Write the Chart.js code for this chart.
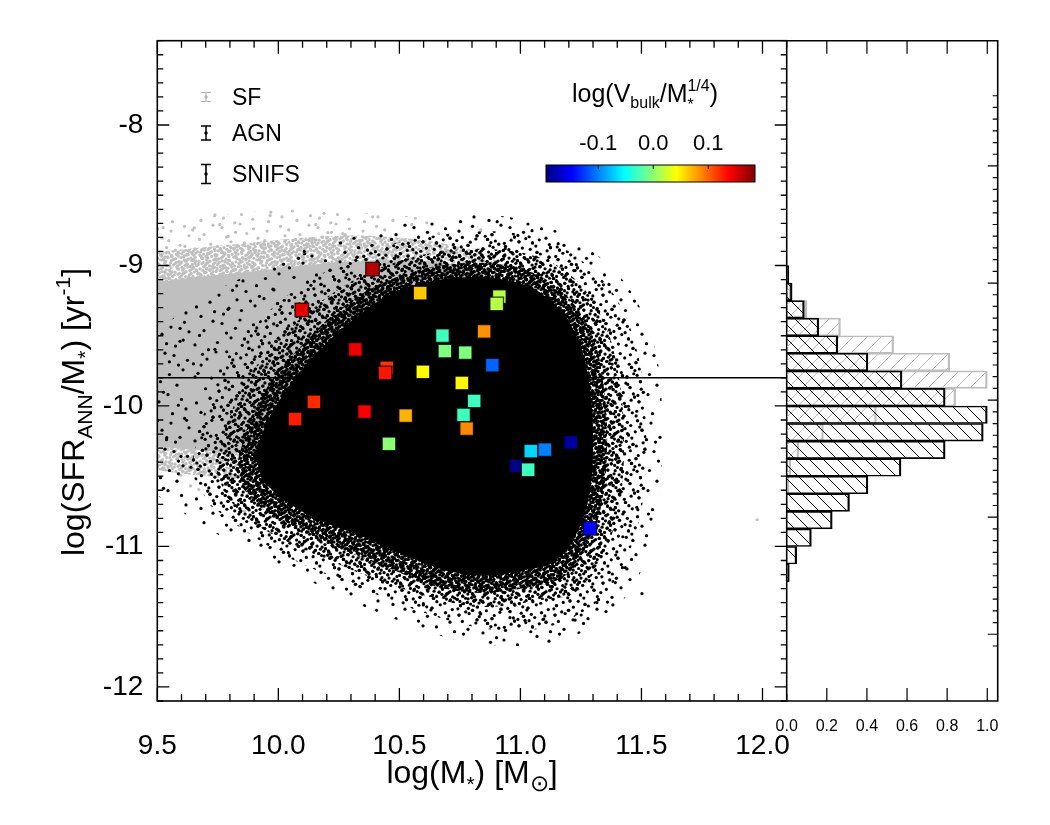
<!DOCTYPE html>
<html><head><meta charset="utf-8">
<script src="https://cdn.jsdelivr.net/npm/chart.js@4.4.1/dist/chart.umd.min.js"></script>
<style>
html,body{margin:0;padding:0;background:#fff;}
#wrap{position:relative;width:1050px;height:825px;background:#fff;}
canvas{position:absolute;left:0;top:0;}
</style></head><body>
<div id="wrap"><canvas id="main" width="1050" height="825"></canvas><canvas id="hist" width="1050" height="825"></canvas></div>
<script>
const FONT = '"Liberation Sans", Arial, Helvetica, sans-serif';

// ---------- axes ----------
const xRange = [9.5, 12.1];
const yRange = [-12.1, -7.4];
const histRange = [0, 1.052];
const xTickValues = [9.5, 10.0, 10.5, 11.0, 11.5, 12.0];
const yTickValues = [-12, -11, -10, -9, -8];
const histTickValues = [0.0, 0.2, 0.4, 0.6, 0.8, 1.0];
const colorbarTickValues = [-0.1, 0.0, 0.1];
const colorRange = [-0.195, 0.185];
const refLineY = -9.8;

// ---------- SF (grey) cloud: density contours ----------
const sfOuter = [[9.5,-8.688],[9.759,-8.645],[10.007,-8.602],[10.255,-8.616],[10.503,-8.645],[10.71,-8.688],[10.916,-8.774],[11.061,-8.924],[11.102,-9.138],[10.833,-9.531],[10.296,-10.174],[10.007,-10.602],[9.842,-10.674],[9.676,-10.645],[9.5,-10.602]];
const sfMid = [[9.5,-8.902],[9.759,-8.859],[10.007,-8.816],[10.255,-8.788],[10.503,-8.802],[10.71,-8.852],[10.895,-8.959],[10.957,-9.138],[10.751,-9.531],[10.296,-10.102],[10.007,-10.424],[9.842,-10.516],[9.676,-10.495],[9.5,-10.459]];
const sfCore = [[9.5,-9.116],[9.676,-9.081],[9.883,-9.045],[10.09,-9.002],[10.296,-8.974],[10.503,-8.959],[10.71,-8.988],[10.833,-9.066],[10.627,-9.459],[10.255,-9.959],[10.007,-10.245],[9.842,-10.331],[9.676,-10.316],[9.5,-10.288]];
const sfStray = [[9.524,-8.731],[9.653,-8.733],[9.966,-8.645],[10.39,-8.654],[10.205,-8.766],[10.276,-8.781],[11.978,-10.81],[9.614,-8.864],[9.793,-8.793],[10.138,-8.816],[9.738,-8.639],[9.86,-10.75]];

// ---------- AGN (black) cloud: density contours ----------
const agnEnvelope = [[9.5,-9.459],[9.676,-9.245],[9.924,-9.031],[10.214,-8.852],[10.503,-8.709],[10.833,-8.638],[11.081,-8.709],[11.288,-8.888],[11.453,-9.174],[11.557,-9.602],[11.586,-10.102],[11.577,-10.602],[11.536,-10.995],[11.453,-11.316],[11.329,-11.531],[11.164,-11.674],[10.957,-11.709],[10.751,-11.674],[10.503,-11.531],[10.255,-11.352],[10.007,-11.138],[9.759,-10.924],[9.594,-10.745],[9.5,-10.638]];
const agnSparse = [[9.635,-10.459],[9.697,-10.031],[9.8,-9.674],[9.966,-9.316],[10.172,-9.066],[10.42,-8.874],[10.668,-8.781],[10.916,-8.759],[11.123,-8.831],[11.288,-9.016],[11.412,-9.281],[11.486,-9.638],[11.515,-10.031],[11.519,-10.424],[11.495,-10.781],[11.433,-11.102],[11.329,-11.374],[11.164,-11.545],[10.978,-11.602],[10.792,-11.566],[10.606,-11.474],[10.42,-11.352],[10.214,-11.209],[10.028,-11.066],[9.862,-10.888],[9.718,-10.709]];
const agnMedium = [[9.738,-10.424],[9.792,-10.102],[9.883,-9.781],[10.028,-9.481],[10.214,-9.209],[10.42,-9.016],[10.668,-8.902],[10.916,-8.888],[11.123,-8.974],[11.267,-9.174],[11.362,-9.474],[11.412,-9.852],[11.428,-10.245],[11.412,-10.674],[11.35,-11.031],[11.238,-11.316],[11.061,-11.388],[10.833,-11.431],[10.627,-11.359],[10.42,-11.245],[10.214,-11.102],[10.028,-10.959],[9.883,-10.816],[9.78,-10.638]];
const agnDense = [[9.833,-10.388],[9.883,-10.102],[9.974,-9.816],[10.11,-9.545],[10.276,-9.281],[10.462,-9.102],[10.668,-9.002],[10.895,-8.988],[11.081,-9.074],[11.214,-9.259],[11.305,-9.531],[11.346,-9.888],[11.358,-10.245],[11.342,-10.638],[11.288,-10.959],[11.185,-11.209],[11.019,-11.296],[10.833,-11.331],[10.648,-11.283],[10.462,-11.159],[10.276,-11.031],[10.09,-10.874],[9.945,-10.745],[9.854,-10.588]];
const agnCore = [[9.904,-10.352],[9.957,-10.102],[10.048,-9.852],[10.172,-9.602],[10.317,-9.374],[10.482,-9.188],[10.668,-9.102],[10.875,-9.088],[11.04,-9.159],[11.164,-9.316],[11.247,-9.566],[11.288,-9.888],[11.3,-10.245],[11.288,-10.602],[11.238,-10.888],[11.143,-11.102],[10.999,-11.174],[10.833,-11.209],[10.668,-11.159],[10.503,-11.045],[10.338,-10.924],[10.172,-10.816],[10.028,-10.674],[9.933,-10.531]];
const agnStray = [[11.502,-11.336],[11.529,-10.769],[11.485,-10.738],[11.453,-10.852],[11.423,-10.931],[11.433,-11.150],[11.392,-11.257],[11.382,-11.416],[11.316,-11.400],[11.251,-11.488],[11.226,-11.524],[11.093,-11.519],[11.043,-11.607],[11.019,-11.526],[10.957,-11.507],[10.833,-11.471],[10.785,-11.440],[10.599,-11.416],[10.544,-11.269],[10.420,-11.126],[10.197,-10.943],[10.161,-10.907],[11.478,-10.071],[11.446,-10.002],[11.442,-10.197],[11.450,-10.293],[11.457,-10.488],[11.374,-9.988],[11.065,-8.940],[11.226,-9.036],[11.343,-9.138],[11.260,-9.245],[11.295,-9.471],[11.371,-9.674],[11.329,-9.531],[11.212,-9.114],[11.109,-9.054],[10.904,-8.688],[11.048,-8.752],[10.937,-8.881],[11.156,-8.845],[10.486,-8.931],[10.255,-8.974],[10.107,-8.900],[9.828,-9.145],[9.982,-9.174],[9.594,-9.447],[9.550,-9.686],[9.738,-9.597],[9.681,-9.709],[9.656,-9.793],[9.587,-9.995],[9.621,-10.102],[9.539,-10.226],[9.598,-10.359],[9.587,-10.483],[9.679,-10.550],[9.639,-10.436],[9.780,-10.638],[9.821,-10.709],[9.929,-10.774],[9.966,-10.757],[9.807,-9.959],[9.904,-9.650],[9.876,-9.471],[9.796,-9.304],[9.607,-9.531],[9.787,-9.614]];

// ---------- SNIFS galaxies ----------
const snifsMass = [10.389,10.586,10.913,10.902,10.097,10.678,10.850,10.688,10.772,10.318,10.884,10.448,10.441,10.597,10.758,10.809,10.147,10.356,10.526,10.765,10.069,10.778,10.457,11.208,11.043,11.101,10.982,11.032,11.287];
const snifsSSFR = [-9.026,-9.197,-9.221,-9.274,-9.316,-9.500,-9.469,-9.609,-9.621,-9.597,-9.709,-9.729,-9.764,-9.757,-9.836,-9.964,-9.971,-10.040,-10.069,-10.064,-10.093,-10.161,-10.269,-10.259,-10.321,-10.311,-10.426,-10.454,-10.871];
const snifsVbulk = [0.166,0.063,0.016,0.016,0.149,-0.029,0.084,-0.005,-0.005,0.143,-0.111,0.118,0.13,0.042,0.045,-0.029,0.122,0.14,0.071,-0.029,0.127,0.087,0.0,-0.183,-0.067,-0.1,-0.195,-0.029,-0.1475];

// ---------- side histogram ----------
const histBinCenters = [-8.925,-9.075,-9.225,-9.375,-9.525,-9.675,-9.825,-9.975,-10.125,-10.275,-10.425,-10.575,-10.725,-10.875,-11.025,-11.175,-11.325,-11.475];
const agnHist = [0.01,0.027,0.088,0.16,0.255,0.405,0.575,0.79,1.0,0.98,0.79,0.57,0.405,0.313,0.227,0.123,0.05,0.013];
const sfBinCenters = [-9.075,-9.225,-9.375,-9.525,-9.675,-9.825,-9.975,-10.125,-10.275,-10.425,-10.575,-10.725];
const sfHist = [0.02,0.1,0.268,0.533,0.813,1.0,0.842,0.447,0.183,0.06,0.02,0.01];

// ---------- helpers ----------
const clamp = v => Math.max(0, Math.min(1, v));
function jetRGB(t){
  t = clamp(t);
  const r = clamp(1.5 - Math.abs(4*t - 3)), g = clamp(1.5 - Math.abs(4*t - 2)), b = clamp(1.5 - Math.abs(4*t - 1));
  return `rgb(${Math.round(r*255)},${Math.round(g*255)},${Math.round(b*255)})`;
}
const colorT = v => (v - colorRange[0]) / (colorRange[1] - colorRange[0]);

const mainCtx = document.getElementById('main').getContext('2d');
const histCtx = document.getElementById('hist').getContext('2d');

function halton(i, b){ let f = 1, r = 0; while (i > 0){ f /= b; r += f * (i % b); i = Math.floor(i / b); } return r; }
// texture tile for a fill (style only): n dots spread over a 96px tile
function dotPattern(n, color, r){
  const S = 96, c = document.createElement('canvas');
  c.width = S; c.height = S;
  const g = c.getContext('2d'); g.fillStyle = color;
  for (let i = 1; i <= n; i++){
    const px = halton(i, 2) * S, py = halton(i, 3) * S;
    for (const ox of [-S,0,S]) for (const oy of [-S,0,S]){
      g.beginPath(); g.arc(px+ox, py+oy, r, 0, Math.PI*2); g.fill();
    }
  }
  return mainCtx.createPattern(c, 'repeat');
}
function hatchPattern(color, dir, s, lw){
  const c = document.createElement('canvas'); c.width = s; c.height = s;
  const g = c.getContext('2d'); g.strokeStyle = color; g.lineWidth = lw;
  for (const k of [-s, 0, s]){
    g.beginPath();
    if (dir === 'back'){ g.moveTo(k, 0); g.lineTo(k+s, s); }
    else { g.moveTo(k, s); g.lineTo(k+s, 0); }
    g.stroke();
  }
  return histCtx.createPattern(c, 'repeat');
}
const GREY = '#bfbfbf';
const toXY = arr => arr.map(p => ({x: p[0], y: p[1]}));
function polyDataset(pts, fillStyle, order){
  return {type:'line', data: toXY(pts), backgroundColor: fillStyle, borderColor:'rgba(0,0,0,0)', borderWidth:0,
          pointRadius:0, fill:'shape', tension:0.35, order};
}

function partWidth(ctx, p){
  if (p.stack) return Math.max(...p.stack.map(q => { ctx.font = `${q.s}px ${FONT}`; return ctx.measureText(q.t).width; }));
  ctx.font = `${p.s}px ${FONT}`; return ctx.measureText(p.t).width;
}
function drawRich(ctx, parts, x, y, align){
  const w = parts.map(p => partWidth(ctx, p));
  const tot = w.reduce((a,b)=>a+b, 0);
  let cx = align === 'center' ? x - tot/2 : x;
  ctx.textAlign = 'left'; ctx.textBaseline = 'alphabetic';
  parts.forEach((p, i) => {
    const list = p.stack ? p.stack : [p];
    list.forEach(q => { ctx.font = `${q.s}px ${FONT}`; ctx.fillText(q.t, cx, y + (q.dy || 0)); });
    cx += w[i];
  });
}
function tickSet(ctx, scale, side, values, len, a){
  ctx.beginPath();
  values.forEach(v => {
    const p = scale.getPixelForValue(v);
    if (side === 'bottom'){ ctx.moveTo(p, a.bottom); ctx.lineTo(p, a.bottom - len); }
    if (side === 'top'){ ctx.moveTo(p, a.top); ctx.lineTo(p, a.top + len); }
    if (side === 'left'){ ctx.moveTo(a.left, p); ctx.lineTo(a.left + len, p); }
    if (side === 'right'){ ctx.moveTo(a.right, p); ctx.lineTo(a.right - len, p); }
  });
  ctx.stroke();
}
function minorValues(lo, hi, step, majors){
  const out = [];
  const n = Math.round((hi - lo) / step);
  for (let i = 0; i <= n; i++){
    const v = +(lo + i*step).toFixed(3);
    if (!majors.some(m => Math.abs(m - v) < 1e-6)) out.push(v);
  }
  return out;
}

// ---------- main chart decorations ----------
const mainDeco = {
  id: 'mainDeco',
  afterDraw(chart){
    const ctx = chart.ctx, a = chart.chartArea, xs = chart.scales.x, ys = chart.scales.y;
    ctx.save();
    ctx.strokeStyle = '#000'; ctx.lineWidth = 1.6;
    ctx.strokeRect(a.left, a.top, a.right - a.left, a.bottom - a.top);
    ctx.lineWidth = 1.3;
    const xMin = minorValues(xRange[0], xRange[1], 0.1, xTickValues);
    const yMin = minorValues(yRange[0], yRange[1], 0.1, yTickValues);
    tickSet(ctx, xs, 'bottom', xTickValues, 13, a); tickSet(ctx, xs, 'top', xTickValues, 13, a);
    tickSet(ctx, xs, 'bottom', xMin, 7, a); tickSet(ctx, xs, 'top', xMin, 7, a);
    tickSet(ctx, ys, 'left', yTickValues, 12, a); tickSet(ctx, ys, 'right', yTickValues, 12, a);
    tickSet(ctx, ys, 'left', yMin, 6, a); tickSet(ctx, ys, 'right', yMin, 6, a);

    ctx.fillStyle = '#000';
    drawRich(ctx, [{t:'log(M', s:32},{t:'*', s:21, dy:8},{t:') [M', s:32},{t:'\u2299', s:23, dy:8},{t:']', s:32}], (a.left + a.right)/2, 783, 'center');
    ctx.save(); ctx.translate(84, 412); ctx.rotate(-Math.PI/2);
    drawRich(ctx, [{t:'log(SFR', s:32},{t:'ANN', s:21, dy:8},{t:'/M', s:32},{t:'*', s:21, dy:8},{t:') [yr', s:32},{t:'-1', s:21, dy:-14},{t:']', s:32}], 0, 0, 'center');
    ctx.restore();

    // legend
    const items = [{label:'SF', color:'#b4b4b4', h:9, lw:1.1, y:97},{label:'AGN', color:'#000', h:14, lw:1.5, y:133},{label:'SNIFS', color:'#000', h:19, lw:1.6, y:174}];
    items.forEach(it => {
      ctx.strokeStyle = it.color; ctx.fillStyle = it.color; ctx.lineWidth = it.lw;
      const x = 206, t = it.y - it.h/2, b = it.y + it.h/2;
      ctx.beginPath(); ctx.moveTo(x, t); ctx.lineTo(x, b); ctx.moveTo(x-5, t); ctx.lineTo(x+5, t); ctx.moveTo(x-5, b); ctx.lineTo(x+5, b); ctx.stroke();
      ctx.beginPath(); ctx.arc(x, it.y, 1.7, 0, Math.PI*2); ctx.fill();
      ctx.fillStyle = '#000'; ctx.font = `23px ${FONT}`; ctx.textAlign = 'left'; ctx.textBaseline = 'alphabetic';
      ctx.fillText(it.label, 232, it.y + 8);
    });

    // colour bar
    const x0 = 546, x1 = 755, y0 = 165, y1 = 182;
    const grad = ctx.createLinearGradient(x0, 0, x1, 0);
    for (let i = 0; i <= 40; i++){ grad.addColorStop(i/40, jetRGB(i/40)); }
    ctx.fillStyle = grad; ctx.fillRect(x0, y0, x1 - x0, y1 - y0);
    ctx.strokeStyle = '#000'; ctx.lineWidth = 1; ctx.strokeRect(x0, y0, x1 - x0, y1 - y0);
    ctx.fillStyle = '#000'; ctx.font = `22px ${FONT}`; ctx.textAlign = 'center';
    colorbarTickValues.forEach(v => {
      const px = x0 + colorT(v) * (x1 - x0);
      ctx.beginPath(); ctx.moveTo(px, y0); ctx.lineTo(px, y0 + 4); ctx.stroke();
      ctx.fillText(v.toFixed(1), px, 150);
    });
    drawRich(ctx, [{t:'log(V', s:25},{t:'bulk', s:16, dy:6},{t:'/M', s:25},{stack:[{t:'*', s:16, dy:8},{t:'1/4', s:16, dy:-11}]},{t:')', s:25}], 645, 102, 'center');
    ctx.restore();
  }
};

// ---------- main chart ----------
new Chart(mainCtx, {
  type: 'scatter',
  data: { datasets: [
    polyDataset(sfOuter, dotPattern(84, GREY, 1.6), 30),
    polyDataset(sfMid, dotPattern(1024, GREY, 1.6), 29),
    polyDataset(sfCore, GREY, 28),
    {type:'scatter', data: toXY(sfStray), pointRadius:1.6, backgroundColor:GREY, borderWidth:0, order:27},
    polyDataset(agnEnvelope, dotPattern(62, '#000', 1.6), 22),
    polyDataset(agnSparse, dotPattern(205, '#000', 1.6), 21),
    polyDataset(agnMedium, dotPattern(576, '#000', 1.6), 20),
    polyDataset(agnDense, dotPattern(1316, '#000', 1.6), 19),
    polyDataset(agnCore, '#000', 18),
    {type:'scatter', data: toXY(agnStray), pointRadius:1.6, backgroundColor:'#000', borderWidth:0, order:17},
    {type:'line', data: [{x:xRange[0], y:refLineY},{x:xRange[1], y:refLineY}], borderColor:'#000', borderWidth:1.5, pointRadius:0, fill:false, tension:0, order:5},
    {type:'scatter', data: snifsMass.map((m,i) => ({x:m, y:snifsSSFR[i]})), pointStyle:'rect', pointRadius:9.6,
     backgroundColor: snifsVbulk.map(v => jetRGB(colorT(v))), pointBackgroundColor: snifsVbulk.map(v => jetRGB(colorT(v))),
     borderColor:'rgba(0,0,0,0.75)', pointBorderColor:'rgba(0,0,0,0.75)', borderWidth:1.3, pointBorderWidth:1.3, order:0}
  ]},
  options: {
    responsive:false, animation:false, events:[],
    layout:{padding:{left:0, top:40.7, right:263.3, bottom:0}},
    plugins:{legend:{display:false}, tooltip:{enabled:false}},
    scales:{
      x:{type:'linear', min:xRange[0], max:xRange[1],
         afterBuildTicks: s => { s.ticks = xTickValues.map(v => ({value:v})); },
         afterFit: s => { s.height = 124; },
         grid:{display:false, drawTicks:false}, border:{display:false},
         ticks:{font:{family:FONT, size:28}, color:'#000', padding:28, maxRotation:0, autoSkip:false, callback: v => Number(v).toFixed(1)}},
      y:{type:'linear', min:yRange[0], max:yRange[1],
         afterBuildTicks: s => { s.ticks = yTickValues.map(v => ({value:v})); },
         afterFit: s => { s.width = 157.3; },
         grid:{display:false, drawTicks:false}, border:{display:false},
         ticks:{font:{family:FONT, size:28}, color:'#000', padding:14, autoSkip:false, callback: v => String(v)}}
    }
  },
  plugins:[mainDeco]
});

// ---------- histogram decorations ----------
const histDeco = {
  id: 'histDeco',
  afterDraw(chart){
    const ctx = chart.ctx, a = chart.chartArea, xs = chart.scales.x, ys = chart.scales.y;
    ctx.save();
    ctx.strokeStyle = '#000'; ctx.lineWidth = 1.6;
    ctx.beginPath(); ctx.moveTo(a.left, a.top); ctx.lineTo(a.right, a.top); ctx.lineTo(a.right, a.bottom); ctx.lineTo(a.left, a.bottom); ctx.stroke();
    ctx.lineWidth = 1.2;
    tickSet(ctx, xs, 'bottom', histTickValues.slice(1), 13, a);
    tickSet(ctx, xs, 'top', histTickValues.slice(1), 13, a);
    tickSet(ctx, ys, 'right', yTickValues, 10, a);
    tickSet(ctx, ys, 'right', minorValues(yRange[0], yRange[1], 0.1, yTickValues), 5, a);
    ctx.restore();
  }
};

new Chart(histCtx, {
  type: 'bar',
  data: { datasets: [
    {label:'SF', data: sfBinCenters.map((c,i) => ({x:sfHist[i], y:c})), backgroundColor: hatchPattern('#b8b8b8', 'fwd', 14, 1),
     borderColor:'#bdbdbd', borderWidth:{top:1, bottom:1, right:1.6, left:0}, borderSkipped:false, grouped:false, barPercentage:1, categoryPercentage:1, order:2},
    {label:'AGN', data: histBinCenters.map((c,i) => ({x:agnHist[i], y:c})), backgroundColor: hatchPattern('#000', 'back', 14, 1),
     borderColor:'#000', borderWidth:{top:1, bottom:1, right:1.6, left:0}, borderSkipped:false, grouped:false, barPercentage:1, categoryPercentage:1, order:1}
  ]},
  options: {
    indexAxis:'y', responsive:false, animation:false, events:[],
    layout:{padding:{left:786.7, top:40.7, right:52.3, bottom:0}},
    plugins:{legend:{display:false}, tooltip:{enabled:false}},
    scales:{
      x:{type:'linear', min:histRange[0], max:histRange[1],
         afterBuildTicks: s => { s.ticks = histTickValues.map(v => ({value:v})); },
         afterFit: s => { s.height = 124; },
         grid:{display:false, drawTicks:false}, border:{display:false},
         ticks:{font:{family:FONT, size:16}, color:'#000', padding:16.4, maxRotation:0, autoSkip:false, callback: v => Number(v).toFixed(1)}},
      y:{type:'linear', min:yRange[0], max:yRange[1], display:false}
    }
  },
  plugins:[histDeco]
});
</script>
</body></html>
